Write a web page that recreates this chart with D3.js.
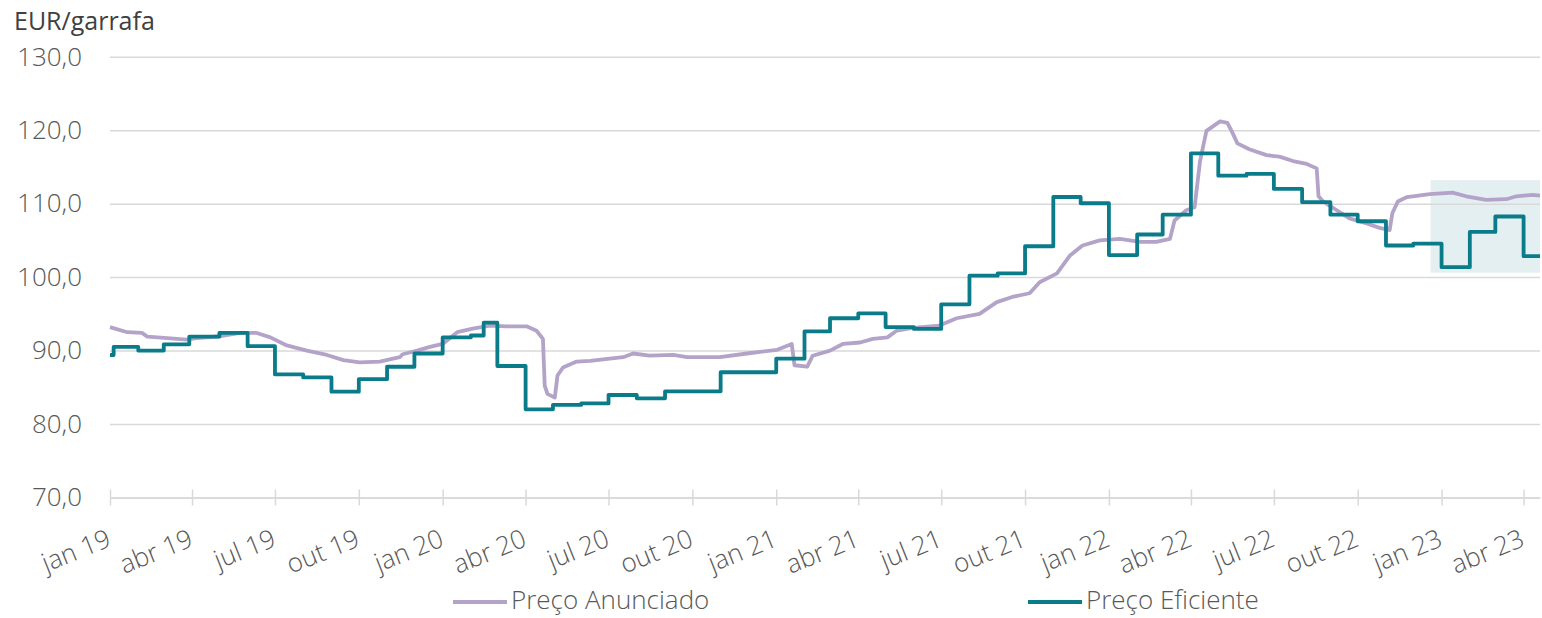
<!DOCTYPE html>
<html>
<head>
<meta charset="utf-8">
<script src="https://cdn.jsdelivr.net/npm/d3@7"></script>
<style>
  html, body { margin: 0; padding: 0; background: #ffffff; }
  svg text { font-family: "Open Sans", sans-serif; font-weight: 300; }
</style>
</head>
<body>
<svg id="chart" width="1542" height="618"></svg>
<script>
// ---------------- DATA ----------------
const unitLabel = "EUR/garrafa";
const seriesNames = ["Preço Anunciado", "Preço Eficiente"];

// Preço Anunciado
const anunciadoDates = [
  "2019-01-01","2019-01-20","2019-02-05","2019-02-11","2019-03-05","2019-03-26","2019-04-06","2019-05-02",
  "2019-05-24","2019-06-11","2019-06-26","2019-07-14","2019-08-05","2019-08-27","2019-09-14","2019-10-02",
  "2019-10-24","2019-11-15","2019-11-18","2019-12-04","2019-12-18","2020-01-01","2020-01-17","2020-02-03",
  "2020-02-22","2020-03-11","2020-04-02","2020-04-13","2020-04-20","2020-04-22","2020-04-25","2020-05-03",
  "2020-05-06","2020-05-12","2020-05-27","2020-06-11","2020-06-25","2020-07-17","2020-07-28","2020-08-15",
  "2020-09-10","2020-09-25","2020-10-09","2020-10-31","2020-11-30","2021-01-02","2021-01-18","2021-01-21",
  "2021-02-04","2021-02-10","2021-03-01","2021-03-15","2021-04-03","2021-04-17","2021-05-03","2021-05-13",
  "2021-05-31","2021-06-29","2021-07-18","2021-08-12","2021-08-31","2021-09-17","2021-10-06","2021-10-17",
  "2021-11-05","2021-11-19","2021-12-03","2021-12-22","2022-01-13","2022-02-04","2022-02-22","2022-03-09",
  "2022-03-14","2022-03-27","2022-04-05","2022-04-11","2022-04-18","2022-05-03","2022-05-11","2022-05-16",
  "2022-05-22","2022-06-04","2022-06-23","2022-07-07","2022-07-22","2022-08-06","2022-08-17","2022-08-19",
  "2022-08-24","2022-09-08","2022-09-22","2022-10-11","2022-10-25","2022-11-05","2022-11-08","2022-11-14",
  "2022-11-24","2022-12-19","2023-01-13","2023-01-28","2023-02-19","2023-03-13","2023-03-24","2023-04-11",
  "2023-04-19"
];
const anunciadoValues = [
  93.2, 92.5, 92.4, 91.9, 91.7, 91.5, 91.7, 91.95,
  92.4, 92.4, 91.8, 90.7, 90.0, 89.4, 88.7, 88.4,
  88.5, 89.1, 89.5, 90.0, 90.5, 90.9, 92.5, 93.0,
  93.4, 93.3, 93.3, 92.7, 91.6, 85.2, 84.1, 83.6,
  86.6, 87.7, 88.5, 88.6, 88.8, 89.1, 89.6, 89.3,
  89.4, 89.1, 89.1, 89.1, 89.6, 90.1, 90.9, 88.0,
  87.8, 89.3, 90.0, 90.9, 91.1, 91.6, 91.8, 92.7,
  93.1, 93.4, 94.4, 95.0, 96.6, 97.3, 97.8, 99.3,
  100.5, 102.9, 104.3, 105.0, 105.2, 104.8, 104.8, 105.2,
  107.7, 109.1, 109.5, 115.8, 119.9, 121.2, 121.0, 119.8,
  118.2, 117.4, 116.6, 116.4, 115.8, 115.4, 114.8, 111.0,
  110.3, 109.1, 108.0, 107.3, 106.7, 106.4, 108.7, 110.3,
  110.9, 111.3, 111.5, 111.0, 110.5, 110.6, 111.0, 111.2,
  111.1
];

// Preço Eficiente (step series: value holds from date until next date)
const eficienteDates = [
  "2019-01-01","2019-01-05","2019-02-01","2019-03-01","2019-03-29","2019-05-01","2019-06-01","2019-07-01",
  "2019-08-01","2019-09-01","2019-10-01","2019-11-01","2019-12-01","2020-01-01","2020-02-01","2020-02-15",
  "2020-03-01","2020-04-01","2020-05-01","2020-06-01","2020-07-01","2020-08-01","2020-09-01","2020-11-01",
  "2021-01-01","2021-02-01","2021-03-01","2021-04-01","2021-05-01","2021-06-01","2021-07-01","2021-08-01",
  "2021-09-01","2021-10-01","2021-11-01","2021-12-01","2022-01-01","2022-02-01","2022-03-01","2022-04-01",
  "2022-05-01","2022-06-01","2022-07-01","2022-08-01","2022-09-01","2022-10-01","2022-11-01","2022-12-01",
  "2023-01-01","2023-02-01","2023-03-01","2023-04-01","2023-04-19"
];
const eficienteValues = [
  89.4, 90.5, 90.0, 90.85, 91.9, 92.4, 90.6, 86.75,
  86.35, 84.4, 86.1, 87.8, 89.6, 91.8, 92.05, 93.8,
  87.9, 82.0, 82.6, 82.8, 83.95, 83.5, 84.45, 87.05,
  88.9, 92.6, 94.4, 95.05, 93.2, 92.95, 96.3, 100.2,
  100.5, 104.2, 110.9, 110.05, 103.0, 105.8, 108.5, 116.85,
  113.8, 114.05, 112.0, 110.2, 108.5, 107.6, 104.3, 104.55,
  101.35, 106.15, 108.25, 102.85, 102.85
];

// Highlight box (dates and values)
const highlightDates = ["2022-12-20", "2023-04-19"];
const highlightValues = [100.6, 113.2];

// Axis ticks
const yTicks = [70, 80, 90, 100, 110, 120, 130];
const xTickDates = [
  "2019-01-01","2019-04-01","2019-07-01","2019-10-01","2020-01-01","2020-04-01","2020-07-01","2020-10-01",
  "2021-01-01","2021-04-01","2021-07-01","2021-10-01","2022-01-01","2022-04-01","2022-07-01","2022-10-01",
  "2023-01-01","2023-04-01"
];
const monthAbbr = ["jan","fev","mar","abr","mai","jun","jul","ago","set","out","nov","dez"];
const xDomain = ["2019-01-01", "2023-04-19"];

// ---------------- DRAW ----------------
const parse = d3.timeParse("%Y-%m-%d");
const svg = d3.select("#chart");
const W = 1542, H = 618;
const margin = { left: 110, right: 2, top: 56.7, bottom: 618 - 497.5 };

const x = d3.scaleTime()
  .domain(xDomain.map(parse))
  .range([margin.left, W - margin.right]);
const y = d3.scaleLinear()
  .domain([70, 130])
  .range([H - margin.bottom, margin.top]);

const COLORS = { anunciado: "#b3a3c9", eficiente: "#0a7b89", grid: "#d9d9d9", text: "#595959" };

const locale = d3.formatLocale({ decimal: ",", thousands: ".", grouping: [3], currency: ["", "€"] });
const fmt = locale.format(".1f");

// highlight rectangle (behind)
svg.append("rect")
  .attr("x", x(parse(highlightDates[0])))
  .attr("y", y(highlightValues[1]))
  .attr("width", x(parse(highlightDates[1])) - x(parse(highlightDates[0])))
  .attr("height", y(highlightValues[0]) - y(highlightValues[1]))
  .attr("fill", "#e4eff1");

// gridlines + y labels
const yAxis = d3.axisLeft(y)
  .tickValues(yTicks)
  .tickSize(-(W - margin.right - margin.left))
  .tickPadding(28)
  .tickFormat(fmt);
const gy = svg.append("g")
  .attr("transform", `translate(${margin.left},0)`)
  .call(yAxis);
gy.select(".domain").remove();
gy.selectAll(".tick line").attr("stroke", COLORS.grid).attr("stroke-width", 1.5);
gy.selectAll(".tick text")
  .attr("fill", COLORS.text)
  .style("font-size", "26px")
  .style("font-family", "'Open Sans', sans-serif")
  .style("font-weight", 300);

// x axis
const xAxis = d3.axisBottom(x)
  .tickValues(xTickDates.map(parse))
  .tickSize(0)
  .tickFormat(d => monthAbbr[d.getMonth()] + " " + d3.timeFormat("%y")(d));
const gx = svg.append("g")
  .attr("transform", `translate(0,${y(70)})`)
  .call(xAxis);
gx.select(".domain").attr("stroke", COLORS.grid).attr("stroke-width", 1.5);
gx.selectAll(".tick").append("line")
  .attr("y1", -8).attr("y2", 8)
  .attr("stroke", COLORS.grid).attr("stroke-width", 1.5);
gx.selectAll(".tick text")
  .attr("fill", COLORS.text)
  .style("font-size", "26px")
  .style("font-family", "'Open Sans', sans-serif")
  .style("font-weight", 300)
  .attr("text-anchor", "end")
  .attr("dy", "0")
  .attr("y", 0)
  .attr("transform", "translate(2,48) rotate(-22)");

// lines
const anunciado = anunciadoDates.map((d, i) => ({ date: parse(d), value: anunciadoValues[i] }));
const eficiente = eficienteDates.map((d, i) => ({ date: parse(d), value: eficienteValues[i] }));

svg.append("path")
  .datum(anunciado)
  .attr("fill", "none")
  .attr("stroke", COLORS.anunciado)
  .attr("stroke-width", 3.8)
  .attr("stroke-linejoin", "round")
  .attr("d", d3.line().x(d => x(d.date)).y(d => y(d.value)));

svg.append("path")
  .datum(eficiente)
  .attr("fill", "none")
  .attr("stroke", COLORS.eficiente)
  .attr("stroke-width", 3.8)
  .attr("stroke-linejoin", "round")
  .attr("d", d3.line().curve(d3.curveStepAfter).x(d => x(d.date)).y(d => y(d.value)));

// unit label
svg.append("text")
  .attr("x", 14).attr("y", 29.5)
  .attr("fill", "#404040")
  .style("font-size", "25px")
  .style("font-weight", 400)
  .text(unitLabel);

// legend
const legend = [
  { name: seriesNames[0], color: COLORS.anunciado, x: 453 },
  { name: seriesNames[1], color: COLORS.eficiente, x: 1028 }
];
const lg = svg.append("g");
legend.forEach(l => {
  lg.append("line")
    .attr("x1", l.x).attr("x2", l.x + 54)
    .attr("y1", 602).attr("y2", 602)
    .attr("stroke", l.color).attr("stroke-width", 3.8);
  lg.append("text")
    .attr("x", l.x + 58).attr("y", 609)
    .attr("fill", COLORS.text)
    .style("font-size", "26px")
    .text(l.name);
});
</script>
</body>
</html>
